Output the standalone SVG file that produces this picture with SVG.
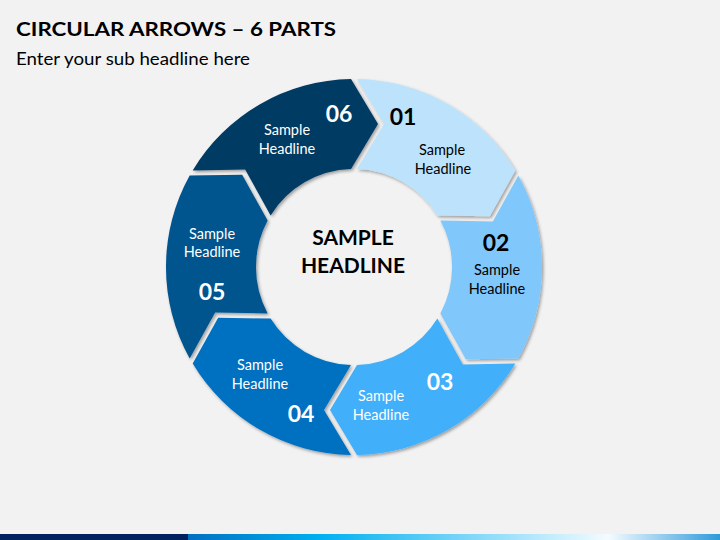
<svg xmlns="http://www.w3.org/2000/svg" width="720" height="540" viewBox="0 0 720 540">
  <defs>
    <filter id="sh" x="-10%" y="-10%" width="120%" height="120%">
      <feDropShadow dx="1.5" dy="1.8" stdDeviation="1.6" flood-color="#000" flood-opacity="0.35"/>
    </filter>
    <linearGradient id="bar" x1="0" y1="0" x2="1" y2="0">
      <stop offset="0" stop-color="#0070C0"/>
      <stop offset="0.25" stop-color="#00B0F0"/>
      <stop offset="0.79" stop-color="#F4FBFF"/>
      <stop offset="1" stop-color="#2E9ADB"/>
    </linearGradient>
  </defs>
  <style>
    .title { font-family: Lato, "Liberation Sans", sans-serif; font-weight: 700; font-size: 19.5px; fill: #000; }
    .sub { font-family: Lato, "Liberation Sans", sans-serif; font-size: 17.5px; fill: #000; }
    .num { font-family: Lato, "Liberation Sans", sans-serif; font-weight: 700; font-size: 23px; text-anchor: middle; }
    .lbl { font-family: Lato, "Liberation Sans", sans-serif; font-size: 14.5px; text-anchor: middle; }
    .ctr { font-family: Lato, "Liberation Sans", sans-serif; font-weight: 700; font-size: 21px; text-anchor: middle; fill: #000; }
    .dark { fill: #000; }
    .light { fill: #fff; }
    .seg { filter: url(#sh); }
  </style>
  <rect width="720" height="540" fill="#F2F2F2"/>
  <text class="title" x="16" y="36" textLength="320" lengthAdjust="spacingAndGlyphs">CIRCULAR ARROWS – 6 PARTS</text>
  <text class="sub" x="16" y="65" textLength="234" lengthAdjust="spacingAndGlyphs">Enter your sub headline here</text>

  <g id="connectors"/>

  <g id="node-01">
    <path class="seg" fill="#BDE3FC" d="M 357 79 A 188 188 0 0 1 515.31 170.40 L 489.84 216.28 L 437.37 215.40 A 98 98 0 0 0 357 169 L 384 124 Z"/>
    <text class="num dark" x="403" y="125">01</text>
    <text class="lbl dark" x="442" y="155">Sample</text>
    <text class="lbl dark" x="443" y="174">Headline</text>
  </g>
  <g id="node-02">
    <path class="seg" fill="#80C7FC" d="M 518.31 175.60 A 188 188 0 0 1 518.31 358.40 L 465.84 359.28 L 440.37 313.40 A 98 98 0 0 0 440.37 220.60 L 492.84 221.48 Z"/>
    <text class="num dark" x="496" y="251">02</text>
    <text class="lbl dark" x="497" y="275">Sample</text>
    <text class="lbl dark" x="497" y="294">Headline</text>
  </g>
  <g id="node-03">
    <path class="seg" fill="#42AFFB" d="M 515.31 363.60 A 188 188 0 0 1 357 455 L 330 410 L 357 365 A 98 98 0 0 0 437.37 318.60 L 462.84 364.48 Z"/>
    <text class="num light" x="440" y="390">03</text>
    <text class="lbl light" x="381" y="401">Sample</text>
    <text class="lbl light" x="381" y="420">Headline</text>
  </g>
  <g id="node-04">
    <path class="seg" fill="#0070C0" d="M 351 455 A 188 188 0 0 1 192.69 363.60 L 218.16 317.72 L 270.63 318.60 A 98 98 0 0 0 351 365 L 324 410 Z"/>
    <text class="num light" x="301" y="422">04</text>
    <text class="lbl light" x="260" y="370">Sample</text>
    <text class="lbl light" x="260" y="389">Headline</text>
  </g>
  <g id="node-05">
    <path class="seg" fill="#00558F" d="M 189.69 358.40 A 188 188 0 0 1 189.69 175.60 L 242.16 174.72 L 267.63 220.60 A 98 98 0 0 0 267.63 313.40 L 215.16 312.52 Z"/>
    <text class="num light" x="212" y="300">05</text>
    <text class="lbl light" x="212" y="239">Sample</text>
    <text class="lbl light" x="212" y="257">Headline</text>
  </g>
  <g id="node-06">
    <path class="seg" fill="#003A63" d="M 192.69 170.40 A 188 188 0 0 1 351 79 L 378 124 L 351 169 A 98 98 0 0 0 270.63 215.40 L 245.16 169.52 Z"/>
    <text class="num light" x="339" y="122">06</text>
    <text class="lbl light" x="287" y="135">Sample</text>
    <text class="lbl light" x="287" y="154">Headline</text>
  </g>
  <g id="center">
    <text class="ctr" x="353" y="245">SAMPLE</text>
    <text class="ctr" x="353" y="273">HEADLINE</text>
  </g>

  <g id="footer-bar">
    <rect x="0" y="534" width="188" height="6" fill="#002060"/>
    <rect x="188" y="534" width="532" height="6" fill="url(#bar)"/>
  </g>
</svg>
